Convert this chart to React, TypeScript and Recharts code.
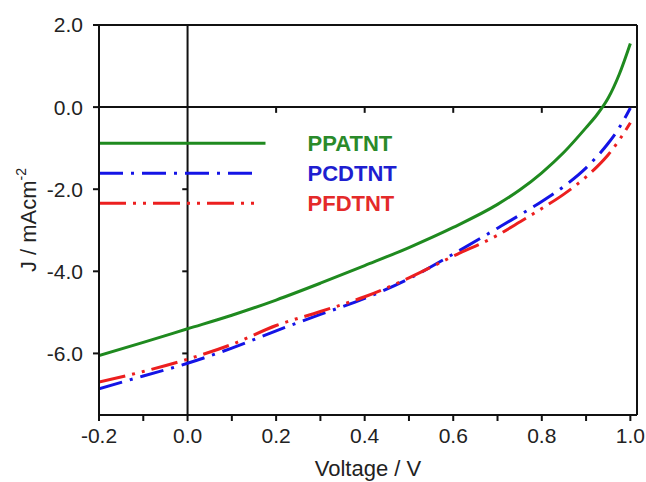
import React from 'react';
import { LineChart, Line, XAxis, YAxis, ReferenceLine, ReferenceDot } from 'recharts';

// Voltage (V) grid and current density (mA cm^-2) for each polymer
const voltage = [-0.2, -0.1, 0, 0.1, 0.2, 0.3, 0.4, 0.5, 0.6, 0.7, 0.75, 0.8, 0.85, 0.9, 0.925, 0.95, 0.975, 1.0];
const ppatnt = [-6.05, -5.73, -5.40, -5.07, -4.70, -4.29, -3.86, -3.42, -2.93, -2.37, -2.02, -1.60, -1.10, -0.50, -0.18, 0.22, 0.80, 1.55];
const pcdtnt = [-6.86, -6.55, -6.24, -5.87, -5.45, -5.05, -4.66, -4.18, -3.58, -2.95, -2.63, -2.30, -1.93, -1.48, -1.20, -0.88, -0.50, -0.02];
const pfdtnt = [-6.70, -6.44, -6.14, -5.78, -5.32, -4.98, -4.62, -4.16, -3.63, -3.12, -2.80, -2.47, -2.12, -1.70, -1.45, -1.16, -0.80, -0.38];

// Axes
const xTicks = [-0.2, -0.1, 0, 0.1, 0.2, 0.3, 0.4, 0.5, 0.6, 0.7, 0.8, 0.9, 1.0];
const xLabelTicks = [-0.2, 0, 0.2, 0.4, 0.6, 0.8, 1.0];
const yTicks = [2, 0, -2, -4, -6];
const xDomain = [-0.2, 1.015];
const yDomain = [-7.5, 2];
const zeroLineXTicks = [0.2, 0.4, 0.6, 0.8];
const zeroLineYTicks = [-2, -4, -6];

// Legend (drawn inside the plot)
const legendNames = ['PPATNT', 'PCDTNT', 'PFDTNT'];
const legendY = [-0.88, -1.61, -2.34];
const legendEnd = [0.176, 0.16, 0.153];
const legendTextX = 0.271;

const colors = ['#1f8a1f', '#1414e6', '#ec1f1f'];
const textColors = ['#2a8a2a', '#1e1ed0', '#e42a2a'];
const dashes = [undefined, '24 8 3 8', '27 7 3 7 3 7'];
const keys = ['ppatnt', 'pcdtnt', 'pfdtnt'];

const data = voltage.map((v, i) => ({ v, ppatnt: ppatnt[i], pcdtnt: pcdtnt[i], pfdtnt: pfdtnt[i] }));
const legendData = legendNames.map((_, i) => [
  { v: xDomain[0], y: legendY[i] },
  { v: legendEnd[i], y: legendY[i] },
]);

const FONT = 'Arial, "Liberation Sans", sans-serif';
const AXIS = '#111';

const YTitle = (props: any) => {
  const vb = props.viewBox || { x: 0, y: 0, width: 0, height: 0 };
  const x = vb.x + 36;
  const y = vb.y + vb.height / 2;
  return (
    <text x={x} y={y} transform={`rotate(-90, ${x}, ${y})`} textAnchor="middle" fontSize={22} fill="#222" fontFamily={FONT}>
      J / mAcm<tspan dy={-10} fontSize={14}>-2</tspan>
    </text>
  );
};

export default function App() {
  return (
    <div style={{ position: 'absolute', left: 0, top: 0, background: '#fff' }}>
      <LineChart width={646} height={482} data={data} margin={{ top: 25, right: 9, bottom: 6, left: 0 }} style={{ fontFamily: FONT }}>
        <XAxis
          type="number"
          dataKey="v"
          domain={xDomain}
          allowDataOverflow
          ticks={xTicks}
          interval={0}
          tickFormatter={(v: number) => (xLabelTicks.some((t) => Math.abs(t - v) < 1e-6) ? v.toFixed(1) : '')}
          axisLine={{ stroke: AXIS, strokeWidth: 2 }}
          tickLine={{ stroke: AXIS, strokeWidth: 2 }}
          tickSize={6}
          tickMargin={7}
          tick={{ fill: '#222', fontSize: 21, fontFamily: FONT }}
          height={61}
          label={{ value: 'Voltage / V', position: 'insideBottom', offset: 0, fill: '#222', fontSize: 22, fontFamily: FONT }}
        />
        <YAxis
          type="number"
          domain={yDomain}
          allowDataOverflow
          ticks={yTicks}
          interval={0}
          tickFormatter={(v: number) => v.toFixed(1)}
          axisLine={{ stroke: AXIS, strokeWidth: 2 }}
          tickLine={{ stroke: AXIS, strokeWidth: 2 }}
          tickSize={6}
          tickMargin={10}
          tick={{ fill: '#222', fontSize: 21, fontFamily: FONT }}
          width={99}
          label={{ content: YTitle }}
        />
        <ReferenceLine y={yDomain[1]} stroke={AXIS} strokeWidth={2} />
        <ReferenceLine x={xDomain[1]} stroke={AXIS} strokeWidth={2} />
        <ReferenceLine y={0} stroke={AXIS} strokeWidth={2} />
        <ReferenceLine x={0} stroke={AXIS} strokeWidth={2} />
        {zeroLineXTicks.map((t) => (
          <ReferenceLine key={'zx' + t} segment={[{ x: t, y: 0 }, { x: t, y: -0.14 }]} stroke={AXIS} strokeWidth={2} />
        ))}
        {zeroLineYTicks.map((t) => (
          <ReferenceLine key={'zy' + t} segment={[{ x: -0.012, y: t }, { x: 0, y: t }]} stroke={AXIS} strokeWidth={2} />
        ))}
        {keys.map((k, i) => (
          <Line
            key={k}
            dataKey={k}
            type="monotone"
            stroke={colors[i]}
            strokeWidth={3}
            strokeDasharray={dashes[i]}
            dot={false}
            activeDot={false}
            isAnimationActive={false}
          />
        ))}
        {legendData.map((d, i) => (
          <Line
            key={'leg' + i}
            data={d}
            dataKey="y"
            type="linear"
            stroke={colors[i]}
            strokeWidth={3}
            strokeDasharray={dashes[i]}
            dot={false}
            activeDot={false}
            isAnimationActive={false}
          />
        ))}
        {legendNames.map((n, i) => (
          <ReferenceDot
            key={'lt' + n}
            x={legendTextX}
            y={legendY[i]}
            r={0}
            stroke="none"
            fill="none"
            label={{ value: n, position: 'right', offset: 0, fill: textColors[i], fontSize: 22, fontWeight: 'bold', fontFamily: FONT }}
          />
        ))}
      </LineChart>
    </div>
  );
}
